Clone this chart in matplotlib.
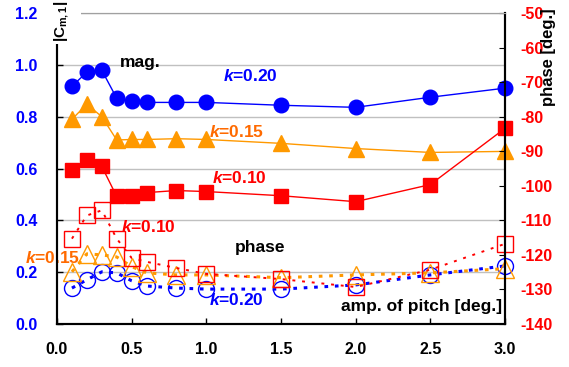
import matplotlib
matplotlib.use("Agg")
import matplotlib.pyplot as plt
from matplotlib.patches import Rectangle

plt.rcParams['font.family'] = ['Liberation Sans', 'DejaVu Sans']
plt.rcParams['font.weight'] = 'bold'
plt.rcParams['axes.unicode_minus'] = False
plt.rcParams['mathtext.fontset'] = 'custom'
plt.rcParams['mathtext.rm'] = 'Liberation Sans:bold'
plt.rcParams['mathtext.it'] = 'Liberation Sans:bold:italic'

amp = [0.1, 0.2, 0.3, 0.4, 0.5, 0.6, 0.8, 1.0, 1.5, 2.0, 2.5, 3.0]

# magnitude |C_m,1|
mag_k20 = [0.917, 0.972, 0.979, 0.871, 0.860, 0.855, 0.855, 0.855, 0.844, 0.836, 0.875, 0.910]
mag_k15 = [0.790, 0.848, 0.800, 0.710, 0.712, 0.712, 0.715, 0.712, 0.697, 0.677, 0.662, 0.666]
mag_k10 = [0.596, 0.631, 0.608, 0.492, 0.495, 0.507, 0.515, 0.511, 0.495, 0.472, 0.538, 0.755]

# phase [deg.]
ph_k20 = [-129.6, -127.2, -124.9, -125.2, -127.5, -129.0, -129.6, -129.9, -129.9, -128.7, -125.8, -123.2]
ph_k15 = [-124.9, -119.7, -120.0, -120.6, -123.4, -125.2, -125.8, -125.8, -126.6, -125.8, -125.2, -124.0]
ph_k10 = [-115.3, -108.6, -107.1, -115.3, -120.9, -122.0, -123.8, -125.5, -127.0, -129.3, -124.3, -116.8]

blue = '#0000FF'
orange = '#FF9900'
red = '#FF0000'
txt_orange = '#FF6A00'

fig = plt.figure(figsize=(5.69, 3.67), dpi=100)
ax = fig.add_axes([57/569, 43/367, 448/569, 311/367])
ax2 = ax.twinx()

ax.set_xlim(0, 3.0)
ax.set_ylim(0, 1.2)
ax2.set_ylim(-140, -50)
ax.set_xticks([0, 0.5, 1.0, 1.5, 2.0, 2.5, 3.0])
ax.set_xticklabels(['0.0', '0.5', '1.0', '1.5', '2.0', '2.5', '3.0'])
ax.set_yticks([0, 0.2, 0.4, 0.6, 0.8, 1.0, 1.2])
ax.set_yticklabels(['0.0', '0.2', '0.4', '0.6', '0.8', '1.0', '1.2'])
ax2.set_yticks(range(-140, -49, 10))

fs = 12.5
tfs = 11.5
ax.yaxis.grid(True, color='#C0C0C0', lw=1)
ax.set_axisbelow(True)
for a in (ax, ax2):
    a.spines['top'].set_color('#A0A0A0')
    for s in ('left', 'right', 'bottom'):
        a.spines[s].set_linewidth(1.5)
ax.tick_params(axis='both', direction='in', length=4, width=1, labelsize=tfs)
ax.tick_params(axis='y', labelcolor=blue, pad=14)
ax.tick_params(axis='x', pad=13)
ax2.tick_params(axis='y', direction='in', length=4, labelsize=tfs, labelcolor=red, pad=11)

# magnitude
ax.plot(amp, mag_k20, '-o', color=blue, lw=1, ms=10.5, zorder=5, clip_on=False)
ax.plot(amp, mag_k15, '-^', color=orange, lw=1, ms=11, zorder=5, clip_on=False)
ax.plot(amp, mag_k10, '-s', color=red, lw=1, ms=10, zorder=5, clip_on=False)

# phase
ax2.plot(amp, ph_k20, color=blue, ls=(0, (1.2, 2.2)), lw=2.2, marker='o', ms=11.5,
         mfc='none', mec=blue, mew=1, clip_on=False)
ax2.plot(amp, ph_k15, color=orange, ls=(0, (1.2, 2.2)), lw=2.2, marker='^', ms=13,
         mfc='none', mec=orange, mew=1, clip_on=False)
ax2.plot(amp, ph_k10, color=red, ls=(0, (1.5, 3.5)), lw=1.4, marker='s', ms=11,
         mfc='none', mec=red, mew=1, clip_on=False)

ax.text(0.42, 1.01, 'mag.', fontsize=fs, color='black', va='center')
ax.text(1.11, 0.956, '$k$=0.20', fontsize=fs, color=blue, va='center')
ax.text(1.02, 0.74, '$k$=0.15', fontsize=fs, color=txt_orange, va='center')
ax.text(1.04, 0.565, '$k$=0.10', fontsize=fs, color=red, va='center')
ax.text(0.43, 0.375, '$k$=0.10', fontsize=fs, color=red, va='center')
ax.text(-0.214, 0.255, '$k$=0.15', fontsize=fs, color=txt_orange, va='center',
        clip_on=False, zorder=10)
ax.text(1.19, 0.294, 'phase', fontsize=fs, color='black', va='center')
ax.text(1.02, 0.093, '$k$=0.20', fontsize=fs, color=blue, va='center')
ax.text(2.98, 0.066, 'amp. of pitch [deg.]', fontsize=fs, color='black', va='center',
        ha='right')

# white patch behind the |C_m,1| label covering top of the left spine
fig.patches.append(Rectangle((50/569, 1 - 44/367), 31/569, 44/367,
                             transform=fig.transFigure, facecolor='white',
                             edgecolor='none', zorder=20))
fig.text(62/569, 1 - 21/367, '|C$_{\\mathrm{m,1}}$|', fontsize=11, rotation=90,
         ha='center', va='center', zorder=21)
fig.text(549/569, 1 - 57/367, 'phase [deg.]', fontsize=12, rotation=90, ha='center',
         va='center')

fig.savefig('out.png', dpi=100)
